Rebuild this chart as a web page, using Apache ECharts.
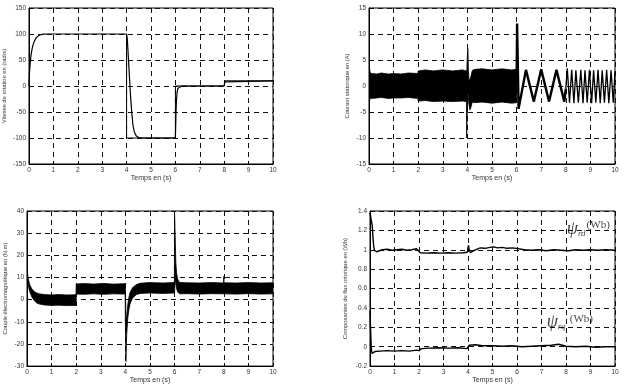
<!DOCTYPE html>
<html><head><meta charset="utf-8">
<script src="https://cdn.jsdelivr.net/npm/echarts@6/dist/echarts.min.js"></script>
<style>html,body{margin:0;padding:0;background:#fff}#c{width:624px;height:385px}</style>
</head><body><div id="c"></div>
<script>
// ---- Panel 1 : speed ----
const speedTime  = [0, 0.02, 0.05, 0.08, 0.12, 0.16, 0.2, 0.25, 0.3, 0.4, 0.5, 0.6, 0.8, 4.0, 4.03, 4.06, 4.09, 4.12, 4.15, 4.18, 4.22, 4.26, 4.3, 4.35, 4.4, 4.5, 4.6, 6.0, 6.02, 6.04, 6.07, 6.1, 6.15, 6.25, 8.0, 8.03, 8.08, 10];
const speedValue = [0, 25, 45, 58, 70, 78, 84, 89, 93, 97, 99, 99.7, 100, 100, 90, 65, 40, 15, -10, -32, -55, -75, -85, -92, -96, -99, -100, -100, -60, -30, -12, -5, -2, 0, 0, 8, 10, 10];
const speedRefTime  = [4, 4, 6, 6, 8, 8.02, 10];
const speedRefValue = [100, -100, -100, 0, 0, 10, 10];

// ---- Panel 2 : stator current ----
const currentBandTime = [0, 0.02, 0.05, 0.1, 0.3, 0.5, 0.8, 1.0, 1.3, 1.6, 1.99, 2.0, 2.3, 2.6, 3.0, 3.4, 3.8, 3.96, 3.97, 3.99, 4.02, 4.04, 4.06, 4.1, 4.15, 4.2, 4.3, 4.6, 5.0, 5.4, 5.8, 6.0];
const currentBandHigh = [3.6, 3.4, 2.6, 2.4, 2.3, 2.5, 2.3, 2.4, 2.3, 2.5, 2.4, 2.9, 3.1, 2.9, 3.1, 2.9, 3.1, 2.9, 2.0, 5.0, 7.2, 3.0, 1.5, 1.0, 2.0, 3.0, 3.2, 3.3, 3.1, 3.3, 3.1, 3.2];
const currentBandLow  = [-4.6, -3.0, -2.3, -2.4, -2.3, -2.2, -2.4, -2.3, -2.3, -2.2, -2.4, -2.9, -2.8, -3.0, -2.9, -3.0, -2.9, -3.0, -10.0, -6.0, -1.0, -2.0, -3.5, -4.6, -4.0, -3.1, -3.2, -3.1, -3.3, -3.1, -3.3, -3.2];
const currentSlowTime  = [6.0, 6.02, 6.08, 6.38, 6.7, 7.0, 7.32, 7.62, 7.94, 8.0];
const currentSlowValue = [0, 12, -4.4, 3.1, -3.0, 3.2, -3.0, 3.1, -3.0, -0.5];
const currentFastTime  = [8.0, 8.06, 8.15, 8.24, 8.33, 8.41, 8.51, 8.61, 8.7, 8.78, 8.87, 8.96, 9.05, 9.13, 9.22, 9.31, 9.4, 9.48, 9.57, 9.66, 9.75, 9.84, 9.93, 10.0];
const currentFastValue = [-0.5, 3.4, -3.2, 3.1, -3.3, 3.0, -3.2, 3.1, -3.3, 3.0, -3.2, 3.1, -3.3, 3.0, -3.2, 3.1, -3.3, 3.0, -3.2, 3.1, -3.3, 3.0, -3.2, 2.8];

// ---- Panel 3 : electromagnetic torque ----
const torqueTime = [0, 0.03, 0.06, 0.1, 0.15, 0.2, 0.3, 0.4, 0.5, 0.7, 1.0, 1.3, 1.6, 1.99, 2.0, 2.3, 2.7, 3.1, 3.5, 3.99, 4.0, 4.02, 4.05, 4.1, 4.15, 4.2, 4.3, 4.45, 4.6, 5.0, 5.5, 5.99, 6.0, 6.02, 6.05, 6.08, 6.12, 6.16, 6.22, 6.5, 7.0, 7.5, 7.99, 8.0, 8.01, 8.5, 9.0, 9.5, 10];
const torqueHigh = [15, 11, 9, 7.2, 5.8, 4.8, 3.6, 3.0, 2.6, 2.3, 2.1, 2.3, 2.1, 2.2, 7.0, 7.3, 7.0, 7.3, 7.0, 7.2, 6.0, -8, -8, -2, 1.5, 3.5, 5.5, 6.8, 7.4, 7.7, 7.5, 7.7, 38, 30, 17, 12, 9.5, 8.3, 7.7, 7.6, 7.5, 7.7, 7.5, 10.5, 7.6, 7.5, 7.7, 7.5, 7.6];
const torqueLow  = [12, 8, 6, 4, 2.5, 1.2, -0.5, -1.5, -2.0, -2.4, -2.6, -2.5, -2.7, -2.6, 2.5, 2.4, 2.6, 2.4, 2.6, 2.5, -10, -28, -16, -8, -4, -1.5, 0.8, 2.3, 2.8, 3.0, 2.8, 3.0, 3.0, 10, 7, 5, 3.5, 3.0, 2.6, 2.7, 2.5, 2.7, 2.6, 2.6, 2.6, 2.5, 2.7, 2.5, 2.6];

// ---- Panel 4 : rotor flux components ----
const fluxRdTime  = [0, 0.03, 0.06, 0.09, 0.12, 0.15, 0.18, 0.22, 0.27, 0.35, 0.5, 0.7, 0.9, 1.1, 1.3, 1.5, 1.7, 1.9, 1.98, 2.05, 2.3, 2.6, 2.9, 3.2, 3.5, 3.8, 3.97, 4.02, 4.05, 4.1, 4.2, 4.35, 4.5, 4.7, 4.9, 5.05, 5.2, 5.4, 5.6, 5.8, 5.97, 6.03, 6.3, 6.6, 6.9, 7.2, 7.5, 7.8, 8.1, 8.4, 8.7, 9.0, 9.3, 9.6, 10];
const fluxRdValue = [1.38, 1.40, 1.36, 1.25, 1.13, 1.04, 0.995, 0.975, 0.98, 0.99, 1.0, 1.005, 0.995, 1.0, 1.005, 0.995, 1.0, 1.01, 1.0, 0.97, 0.965, 0.97, 0.965, 0.97, 0.965, 0.97, 0.975, 1.045, 1.0, 0.97, 0.985, 1.005, 1.02, 1.015, 1.025, 1.03, 1.02, 1.025, 1.015, 1.02, 1.015, 0.995, 1.0, 0.995, 1.0, 0.99, 1.0, 0.995, 0.99, 1.0, 0.995, 1.0, 0.995, 1.0, 0.995];
const fluxRqTime  = [0, 0.02, 0.05, 0.08, 0.12, 0.2, 0.4, 0.7, 1.0, 1.3, 1.6, 1.9, 2.0, 2.1, 2.4, 2.8, 3.2, 3.6, 3.95, 4.0, 4.05, 4.3, 4.6, 5.0, 5.4, 5.8, 6.2, 6.6, 7.0, 7.4, 7.7, 7.85, 8.0, 8.4, 8.8, 9.2, 9.6, 10];
const fluxRqValue = [0.37, 0.2, 0.0, -0.07, -0.06, -0.05, -0.045, -0.04, -0.045, -0.04, -0.045, -0.035, -0.04, -0.02, -0.015, -0.01, -0.015, -0.01, -0.02, 0.0, 0.015, 0.02, 0.01, 0.01, 0.005, 0.01, 0.0, 0.005, 0.01, 0.015, 0.025, 0.015, 0.005, 0.0, 0.005, -0.005, 0.0, 0.0];

// ---- Axis texts ----
const xName = 'Temps en (s)';
const yNames = ['Vitesse de rotation en (rad/s)', 'Courant statorique en (A)', 'Couple électromagnétique en (N.m)', 'Composantes du flux rotorique en (Wb)'];
const yRanges = [[-150, 150, 50], [-15, 15, 5], [-30, 40, 10], [-0.2, 1.4, 0.2]];

const FONT = 'Liberation Sans, Arial, sans-serif';
const pairs = (xs, ys) => xs.map((x, i) => [x, ys[i]]);

const grids = [
  {left: 27, top: 8, width: 246, height: 156},
  {left: 369, top: 8, width: 246, height: 156},
  {left: 27, top: 211, width: 246, height: 156},
  {left: 370, top: 211, width: 245, height: 156}
].map(g => Object.assign(g, {show: true, borderColor: '#000', borderWidth: 1, backgroundColor: 'transparent'}));

const splitLine = {show: true, lineStyle: {color: '#111', width: 1, type: [5, 4]}};
const xNameGaps = [9, 9, 8, 8];
const yNameGaps = [22, 19, 19, 22];

const xAxes = grids.map((g, i) => ({
  type: 'value', gridIndex: i, min: 0, max: 10, interval: 1,
  axisLine: {onZero: false, lineStyle: {color: '#000'}},
  axisTick: {inside: true, length: 3, lineStyle: {color: '#000'}},
  axisLabel: {fontSize: 6.5, margin: 3, color: '#333', fontFamily: FONT},
  splitLine: splitLine,
  name: xName, nameLocation: 'middle', nameGap: xNameGaps[i],
  nameTextStyle: {fontSize: 7, color: '#333', fontFamily: FONT}
}));
const yAxes = grids.map((g, i) => ({
  type: 'value', gridIndex: i, min: yRanges[i][0], max: yRanges[i][1], interval: yRanges[i][2],
  axisLine: {onZero: false, lineStyle: {color: '#000'}},
  axisTick: {inside: true, length: 3, lineStyle: {color: '#000'}},
  axisLabel: {fontSize: 6.5, margin: 3, color: '#333', fontFamily: FONT},
  splitLine: splitLine,
  name: yNames[i], nameLocation: 'middle', nameGap: yNameGaps[i],
  nameTextStyle: {fontSize: 5.8, color: '#333', fontFamily: FONT}
}));

function line(idx, xs, ys, w) {
  return {type: 'line', xAxisIndex: idx, yAxisIndex: idx, data: pairs(xs, ys), symbol: 'none',
    lineStyle: {color: '#000', width: w}, silent: true, animation: false, clip: true};
}
function band(idx, xs, lo, hi) {
  return {
    type: 'custom', xAxisIndex: idx, yAxisIndex: idx, silent: true, animation: false, clip: true,
    data: xs.map((x, i) => [x, lo[i], hi[i]]),
    encode: {x: 0, y: [1, 2]},
    renderItem: function (params, api) {
      if (params.dataIndex !== 0) return null;
      const pts = [];
      for (let i = 0; i < xs.length; i++) pts.push(api.coord([xs[i], hi[i]]));
      for (let i = xs.length - 1; i >= 0; i--) pts.push(api.coord([xs[i], lo[i]]));
      return {type: 'polygon', shape: {points: pts}, style: {fill: '#000', stroke: '#000', lineWidth: 0.8}};
    }
  };
}
const rich = {
  psi: {fontFamily: 'Liberation Serif, serif', fontStyle: 'italic', fontSize: 18, lineHeight: 18, color: '#111', verticalAlign: 'middle'},
  sub: {fontFamily: 'Liberation Serif, serif', fontStyle: 'italic', fontSize: 9, color: '#111', verticalAlign: 'bottom', padding: [0, 1, 0, 0]},
  wb: {fontFamily: 'Liberation Serif, serif', fontSize: 11, color: '#111', verticalAlign: 'top'}
};
function annot(idx, x, y, text) {
  return {type: 'scatter', xAxisIndex: idx, yAxisIndex: idx, symbolSize: 0, silent: true, animation: false,
    data: [[x, y]],
    label: {show: true, position: 'right', distance: 0, formatter: text, rich: rich}};
}

const option = {
  animation: false,
  backgroundColor: '#fff',
  grid: grids, xAxis: xAxes, yAxis: yAxes,
  series: [
    line(0, speedRefTime, speedRefValue, 1),
    line(0, speedTime, speedValue, 1.2),
    band(1, currentBandTime, currentBandLow, currentBandHigh),
    line(1, currentSlowTime, currentSlowValue, 2.4),
    line(1, currentFastTime, currentFastValue, 1.3),
    band(2, torqueTime, torqueLow, torqueHigh),
    line(3, fluxRdTime, fluxRdValue, 1.4),
    line(3, fluxRqTime, fluxRqValue, 1.4),
    annot(3, 8.03, 1.215, '{psi|ψ}{sub|rd}{wb|(Wb)}'),
    annot(3, 7.21, 0.25, '{psi|ψ}{sub|rq} {wb|(Wb)}')
  ]
};
const chart = echarts.init(document.getElementById('c'), null, {renderer: 'canvas'});
chart.setOption(option);
</script>
</body></html>
